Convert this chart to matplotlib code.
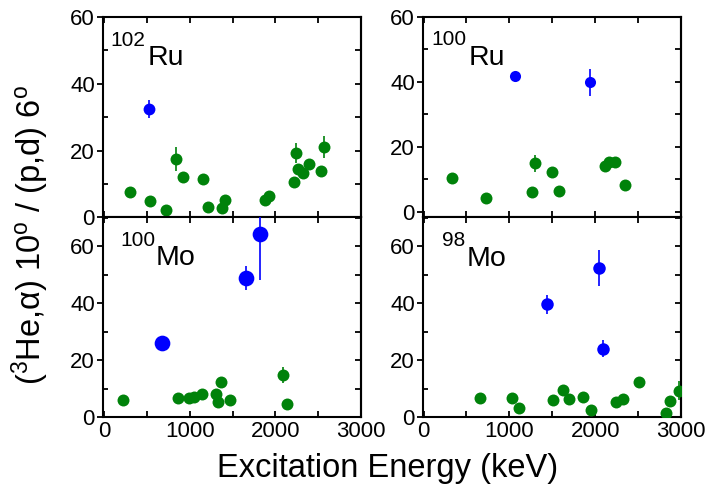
import matplotlib
matplotlib.use('Agg')
import matplotlib.pyplot as plt
from matplotlib.ticker import MultipleLocator, NullFormatter

plt.rcParams['font.family'] = ['Liberation Sans', 'DejaVu Sans']
plt.rcParams['mathtext.fontset'] = 'custom'
plt.rcParams['mathtext.rm'] = 'Liberation Sans'
plt.rcParams['mathtext.it'] = 'Liberation Sans:italic'
plt.rcParams['mathtext.bf'] = 'Liberation Sans:bold'

# ---------------- data ----------------
# 102Ru (top-left)
ru102_green_x = [300, 534, 722, 839, 925, 1151, 1209, 1381, 1416, 1884, 1931, 2216, 2247, 2270, 2329, 2395, 2532, 2571]
ru102_green_y = [7.7, 4.9, 2.1, 17.5, 12.0, 11.6, 3.2, 2.8, 5.2, 5.2, 6.4, 10.7, 19.4, 14.6, 13.2, 15.9, 14.0, 21.1]
ru102_green_e = [0, 0, 0, 3.5, 0, 0, 0, 0, 0, 0, 0, 0, 3.0, 0, 0, 0, 0, 3.3]
ru102_blue_x = [523]
ru102_blue_y = [32.3]
ru102_blue_e = [2.7]

# 100Ru (top-right)
ru100_green_x = [336, 722, 1259, 1301, 1492, 1582, 2111, 2166, 2232, 2352]
ru100_green_y = [10.5, 4.2, 6.2, 14.9, 12.2, 6.3, 14.2, 15.2, 15.4, 8.3]
ru100_green_e = [0, 0, 0, 2.5, 0, 0, 0, 0, 0, 0]
ru100_blue_x = [1068, 1944]
ru100_blue_y = [41.7, 39.9]
ru100_blue_e = [0, 4.2]

# 100Mo (bottom-left)
mo100_green_x = [222, 858, 995, 1049, 1139, 1307, 1334, 1365, 1471, 2087, 2134]
mo100_green_y = [6.1, 6.9, 6.9, 7.3, 8.3, 8.2, 5.2, 12.4, 6.2, 14.9, 4.7]
mo100_green_e = [0, 0, 0, 0, 0, 0, 0, 0, 0, 2.7, 0]
mo100_blue_x = [675, 1658, 1822]
mo100_blue_y = [26.1, 48.9, 64.3]
mo100_blue_e = [0, 4.1, 16.0]

# 98Mo (bottom-right)
mo98_green_x = [655, 1025, 1115, 1512, 1628, 1698, 1862, 1952, 2244, 2322, 2505, 2823, 2874, 2971]
mo98_green_y = [6.7, 6.9, 3.4, 6.1, 9.6, 6.3, 7.3, 2.6, 5.5, 6.3, 12.5, 1.4, 5.7, 9.4]
mo98_green_e = [0, 0, 0, 0, 0, 0, 0, 0, 0, 0, 0, 0, 0, 3.5]
mo98_blue_x = [1434, 2041, 2088]
mo98_blue_y = [39.6, 52.5, 24.1]
mo98_blue_e = [3.4, 6.3, 2.9]

label_mass = ['102', '100', '100', '98']
label_elem = ['Ru', 'Ru', 'Mo', 'Mo']
x_label = 'Excitation Energy (keV)'
y_label = r'($^{3}$He,α) 10$^{\mathrm{o}}$ / (p,d) 6$^{\mathrm{o}}$'

# ---------------- layout ----------------
W, H = 709, 491
fig = plt.figure(figsize=(W / 100, H / 100), dpi=100)

def frac(l, t, r, b):
    return [l / W, 1 - b / H, (r - l) / W, (b - t) / H]

rects = [frac(103.3, 17.0, 360.7, 217.3), frac(423.3, 17.0, 681.0, 217.3),
         frac(103.3, 217.3, 360.7, 417.3), frac(423.3, 217.3, 681.0, 417.3)]
ylims = [(0, 60), (-1.7, 60), (0, 70.2), (0, 70.2)]
xlims = [(-14, 3000), (-3, 3000), (-14, 3000), (-3, 3000)]
mass_pos = [(0.026, 0.855), (0.033, 0.858), (0.065, 0.856), (0.071, 0.856)]
elem_pos = [(0.172, 0.760), (0.174, 0.760), (0.204, 0.7615), (0.168, 0.755)]
blue_ms = [8.5, 8.0, 11.3, 9.0]

green = '#00820a'
blue = '#0000ff'

series = [
    (ru102_green_x, ru102_green_y, ru102_green_e, ru102_blue_x, ru102_blue_y, ru102_blue_e),
    (ru100_green_x, ru100_green_y, ru100_green_e, ru100_blue_x, ru100_blue_y, ru100_blue_e),
    (mo100_green_x, mo100_green_y, mo100_green_e, mo100_blue_x, mo100_blue_y, mo100_blue_e),
    (mo98_green_x, mo98_green_y, mo98_green_e, mo98_blue_x, mo98_blue_y, mo98_blue_e),
]

for i, (gx, gy, ge, bx, by, be) in enumerate(series):
    ax = fig.add_axes(rects[i])
    ax.errorbar(gx, gy, yerr=ge, fmt='o', color=green, ms=8.6, mew=0,
                elinewidth=1.2, capsize=0, zorder=3)
    ax.errorbar(bx, by, yerr=be, fmt='o', color=blue, ms=blue_ms[i], mew=0,
                elinewidth=1.2, capsize=0, zorder=4)
    ax.set_xlim(*xlims[i])
    ax.set_ylim(*ylims[i])
    for s in ax.spines.values():
        s.set_linewidth(1.5)
    ax.xaxis.set_major_locator(MultipleLocator(1000))
    ax.xaxis.set_minor_locator(MultipleLocator(500))
    ax.yaxis.set_major_locator(MultipleLocator(20))
    ax.yaxis.set_minor_locator(MultipleLocator(10))
    ax.tick_params(axis='x', which='both', direction='in', top=True, bottom=True,
                   length=4.5, width=1.3, labelsize=16, pad=3)
    ax.tick_params(axis='y', which='major', direction='out', left=True, right=False,
                   length=4.5, width=1.3, labelsize=16, pad=1.5)
    ax.tick_params(axis='y', which='minor', direction='in', left=True, right=False,
                   length=3.5, width=1.3)
    if i < 2:
        ax.tick_params(axis='x', labelbottom=False)
    sec = ax.secondary_yaxis('right')
    sec.yaxis.set_major_locator(MultipleLocator(20))
    sec.yaxis.set_minor_locator(MultipleLocator(10))
    sec.tick_params(which='both', direction='in', labelright=False, length=4, width=1.3)
    sec.yaxis.set_major_formatter(NullFormatter())
    sec.spines['right'].set_linewidth(1.5)
    ax.text(mass_pos[i][0], mass_pos[i][1], label_mass[i], transform=ax.transAxes,
            fontsize=15, ha='left', va='baseline')
    ax.text(elem_pos[i][0], elem_pos[i][1], label_elem[i], transform=ax.transAxes,
            fontsize=20.5, ha='left', va='baseline')

fig.text(388 / W, 1 - 468 / H, x_label, fontsize=23.5, ha='center', va='center')
fig.text(30 / W, 1 - 235 / H, y_label, fontsize=23.5, ha='center', va='center', rotation=90)

fig.savefig('out.png', dpi=100)
